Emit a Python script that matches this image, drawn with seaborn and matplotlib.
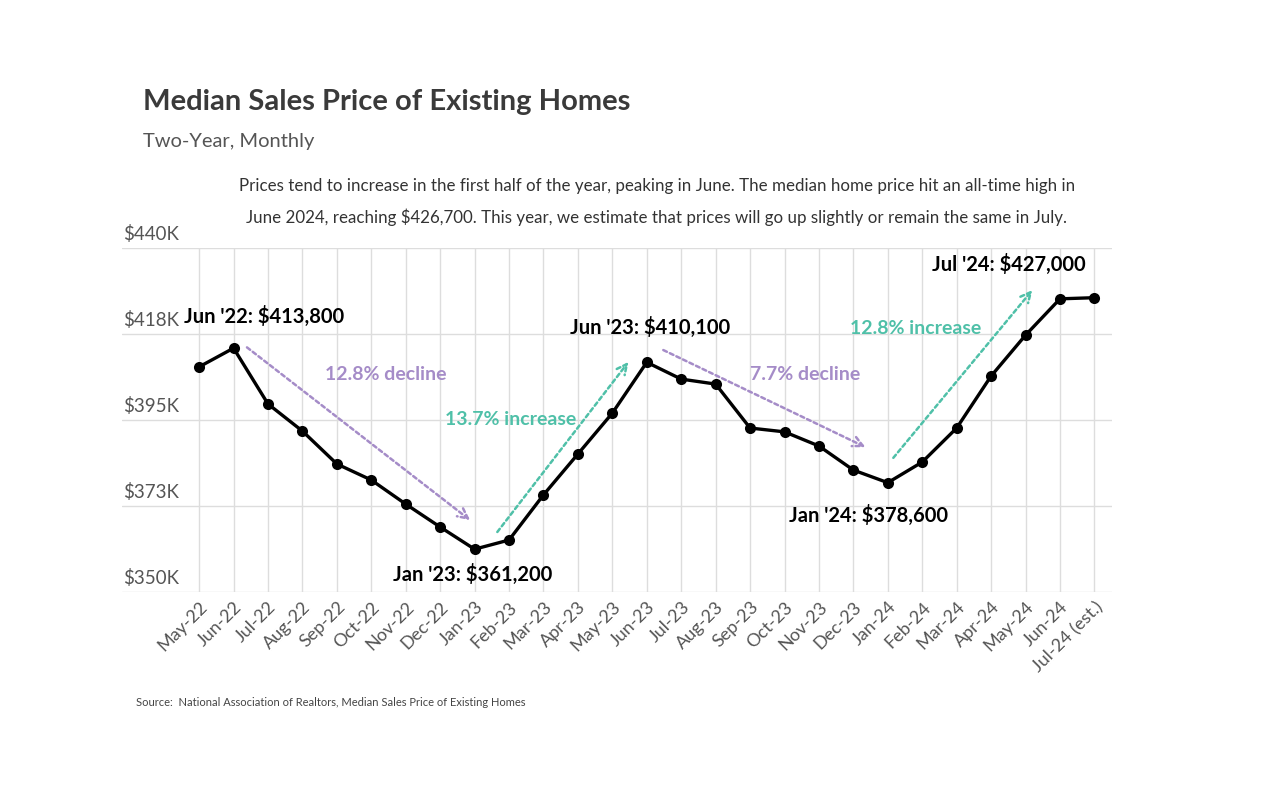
import numpy as np
import pandas as pd
import matplotlib
matplotlib.use("Agg")
import matplotlib.pyplot as plt
import matplotlib.transforms as mtransforms
from matplotlib import font_manager
import seaborn as sns

months = ["May-22", "Jun-22", "Jul-22", "Aug-22", "Sep-22", "Oct-22", "Nov-22", "Dec-22",
          "Jan-23", "Feb-23", "Mar-23", "Apr-23", "May-23", "Jun-23", "Jul-23", "Aug-23",
          "Sep-23", "Oct-23", "Nov-23", "Dec-23", "Jan-24", "Feb-24", "Mar-24", "Apr-24",
          "May-24", "Jun-24", "Jul-24 (est.)"]
prices_k = [408.9, 413.8, 399.2, 392.1, 383.5, 379.3, 373.0, 367.0,
            361.2, 363.6, 375.4, 386.1, 396.8, 410.1, 405.7, 404.4,
            392.9, 391.9, 388.2, 381.9, 378.6, 384.0, 392.9, 406.5,
            417.2, 426.7, 427.0]
y_ticks = [350, 372.5, 395, 417.5, 440]
y_tick_labels = ["$350K", "$373K", "$395K", "$418K", "$440K"]

point_labels = ["Jun '22: $413,800", "Jan '23: $361,200", "Jun '23: $410,100",
                "Jan '24: $378,600", "Jul '24: $427,000"]
point_label_pos = [(1.9, 422.0), (7.93, 354.6), (13.1, 419.2), (19.44, 369.9), (23.5, 435.8)]

trend_texts = ["12.8% decline", "13.7% increase", "7.7% decline", "12.8% increase"]
trend_text_pos = [(5.43, 406.8), (9.04, 395.2), (17.6, 407.0), (20.8, 419.0)]
trend_arrows = [((1.39, 414.0), (7.87, 368.8)),
                ((8.66, 365.7), (12.47, 410.2)),
                ((13.48, 413.3), (19.35, 387.9)),
                ((20.16, 385.1), (24.2, 429.0))]
purple = "#a58cc8"
teal = "#4fc0a8"
trend_colors = [purple, teal, purple, teal]

sns.set_theme(style="white")
available = {f.name for f in font_manager.fontManager.ttflist}
base_font = next((f for f in ["Lato", "Liberation Sans", "DejaVu Sans"] if f in available), "DejaVu Sans")
plt.rcParams["font.family"] = [base_font, "DejaVu Sans"]

df = pd.DataFrame({"idx": np.arange(len(months)), "price": prices_k})

fig = plt.figure(figsize=(12.8, 8), dpi=100)
ax = fig.add_axes([0.0953, 0.26, 0.869 - 0.0953, 0.43])

sns.lineplot(data=df, x="idx", y="price", ax=ax, color="black", linewidth=2.4,
             marker="o", markersize=8, markeredgewidth=0, zorder=5)

ax.set_xlim(-2.24, 26.52)
ax.set_ylim(350, 440)
ax.set_xticks(df["idx"])
ax.set_xticklabels(months, rotation=45, ha="right", rotation_mode="anchor",
                   fontsize=13, color="#555555")
ax.tick_params(axis="x", length=0, pad=5)
ax.set_yticks(y_ticks)
ax.set_yticklabels([])
ax.tick_params(axis="y", length=0)
ax.set_xlabel("")
ax.set_ylabel("")
for s in ax.spines.values():
    s.set_visible(False)

for t in y_ticks:
    ax.axhline(t, color="#dddddd", linewidth=1, zorder=0)
for i in df["idx"]:
    ax.plot([i, i], [350, 440], color="#dddddd", linewidth=1, zorder=0)

trans = mtransforms.blended_transform_factory(ax.transAxes, ax.transData)
for t, lab in zip(y_ticks, y_tick_labels):
    ax.text(0.001, t + 1.3, lab, transform=trans, ha="left", va="bottom",
            fontsize=13.5, color="#555555")

for lab, (x, y) in zip(point_labels, point_label_pos):
    ax.text(x, y, lab, ha="center", va="center", fontsize=14.5, fontweight="bold",
            color="black", zorder=6)

for lab, (x, y), c in zip(trend_texts, trend_text_pos, trend_colors):
    ax.text(x, y, lab, ha="center", va="center", fontsize=14, fontweight="bold",
            color=c, zorder=6)

for (start, end), c in zip(trend_arrows, trend_colors):
    ax.annotate("", xy=end, xytext=start,
                arrowprops=dict(arrowstyle="->", color=c, lw=1.8, linestyle=(0, (1.6, 1.3)),
                                mutation_scale=18, shrinkA=0, shrinkB=0), zorder=4)

fig.text(143 / 1280, 1 - 102 / 800, "Median Sales Price of Existing Homes",
         ha="left", va="center", fontsize=21, fontweight="bold", color="#3a3a3a")
fig.text(143 / 1280, 1 - 141 / 800, "Two-Year, Monthly", ha="left", va="center",
         fontsize=14.5, color="#555555")
fig.text(657 / 1280, 1 - 202 / 800,
         "Prices tend to increase in the first half of the year, peaking in June. The median home price hit an all-time high in\n"
         "June 2024, reaching $426,700. This year, we estimate that prices will go up slightly or remain the same in July.",
         ha="center", va="center", fontsize=12.2, color="#333333", linespacing=2.05)
fig.text(136 / 1280, 1 - 703 / 800,
         "Source:  National Association of Realtors, Median Sales Price of Existing Homes",
         ha="left", va="center", fontsize=8, color="#444444")

fig.savefig("out.png", dpi=100, facecolor="white")
